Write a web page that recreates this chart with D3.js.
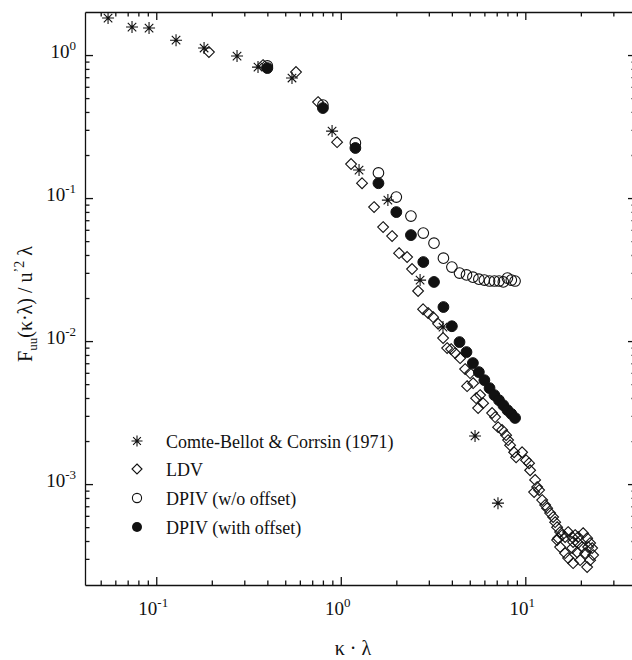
<!DOCTYPE html>
<html>
<head>
<meta charset="utf-8">
<script src="https://cdn.jsdelivr.net/npm/d3@7/dist/d3.min.js"></script>
<style>
  html, body { margin: 0; padding: 0; background: #fff; }
  svg { display: block; }
</style>
</head>
<body>
<svg id="chart" width="632" height="660" font-family="'Liberation Serif', 'DejaVu Serif', serif"></svg>
<script>
// Spectrum data: wavenumber k·λ and normalized spectrum F_uu / u'^2 λ
const cbX = [0.0548, 0.0739, 0.0914, 0.128, 0.1816, 0.274, 0.356, 0.544, 0.897, 1.256, 1.80, 2.69, 3.58, 5.34, 7.11];
const cbY = [1.815, 1.57, 1.545, 1.27, 1.12, 0.984, 0.824, 0.691, 0.294, 0.157, 0.0968, 0.0267, 0.01253, 0.00217, 0.000736];

const ldvX = [0.193, 0.379, 0.572, 0.753, 0.955, 1.137, 1.304, 1.515, 1.696, 1.897, 2.070, 2.288, 2.434, 2.624, 2.793,
  2.973, 3.165, 3.369, 3.585, 3.770, 3.962, 4.165, 4.433, 4.718, 5.022, 4.837, 5.214, 5.413, 5.689, 5.549,
  5.906, 6.608, 6.860, 7.121, 7.485, 7.868, 8.068, 8.271, 8.694, 8.915, 9.609, 10.10, 10.48, 10.62, 11.30,
  11.59, 11.16, 11.88, 12.34, 12.81, 13.13, 13.63, 14.15, 14.51, 14.87, 15.44, 15.06, 15.83, 16.43, 17.06,
  17.94, 18.62, 19.33, 20.57, 21.63, 22.45, 23.02, 23.31, 22.45, 21.63, 19.82, 18.16, 17.06, 16.43, 15.44,
  14.87, 17.94, 19.09, 20.32, 21.09, 21.90, 19.33, 18.16];
const ldvY = [1.05, 0.851, 0.761, 0.469, 0.246, 0.173, 0.127, 0.0865, 0.0627, 0.0542, 0.0412, 0.0387, 0.0319, 0.0224, 0.0167,
  0.0157, 0.0147, 0.0132, 0.0105, 0.00893, 0.00879, 0.00824, 0.00760, 0.00637, 0.00597, 0.00484, 0.00508, 0.00399, 0.00419, 0.00340,
  0.00368, 0.00314, 0.00294, 0.00250, 0.00239, 0.00220, 0.00203, 0.00187, 0.00167, 0.00154, 0.00167, 0.00147, 0.00140, 0.00125, 0.00107,
  0.000953, 0.000879, 0.000908, 0.000773, 0.000713, 0.000679, 0.000627, 0.000588, 0.000542, 0.000500, 0.000462, 0.000419, 0.000440, 0.000426, 0.000462,
  0.000426, 0.000440, 0.000426, 0.000454, 0.000419, 0.000387, 0.000357, 0.000319, 0.000294, 0.000263, 0.000294, 0.000280, 0.000304, 0.000329, 0.000363,
  0.000406, 0.000357, 0.000334, 0.000363, 0.000329, 0.000363, 0.000387, 0.000393];

const dpivX = [0.4, 0.8, 1.2, 1.6, 2.0, 2.4, 2.8, 3.2, 3.6, 4.0, 4.4, 4.8, 5.2, 5.6, 6.0, 6.4, 6.8, 7.2, 7.6, 8.0, 8.4, 8.8];
const noOffsetY = [0.84, 0.447, 0.243, 0.150, 0.1016, 0.0748, 0.0569, 0.0484, 0.0380, 0.0329, 0.0299, 0.0290, 0.0280, 0.0271,
  0.0267, 0.0263, 0.0263, 0.0263, 0.0259, 0.0276, 0.0267, 0.0263];
const withOffsetY = [0.811, 0.426, 0.224, 0.127, 0.0798, 0.0551, 0.0357, 0.0259, 0.0173, 0.0127, 0.00984, 0.00838, 0.00702, 0.00607,
  0.00533, 0.00469, 0.00419, 0.00386, 0.00356, 0.00329, 0.00310, 0.00290];

const legendLabels = ["Comte-Bellot & Corrsin (1971)", "LDV", "DPIV (w/o offset)", "DPIV (with offset)"];

const xMajor = [0.1, 1, 10];
const xExp = ["-1", "0", "1"];
const xMinor = [0.05, 0.06, 0.07, 0.08, 0.09, 0.2, 0.3, 0.4, 0.5, 0.6, 0.7, 0.8, 0.9, 2, 3, 4, 5, 6, 7, 8, 9, 20, 30];
const yMajor = [0.001, 0.01, 0.1, 1];
const yExp = ["-3", "-2", "-1", "0"];
const yMinor = [0.0003, 0.0004, 0.0005, 0.0006, 0.0007, 0.0008, 0.0009,
  0.002, 0.003, 0.004, 0.005, 0.006, 0.007, 0.008, 0.009,
  0.02, 0.03, 0.04, 0.05, 0.06, 0.07, 0.08, 0.09,
  0.2, 0.3, 0.4, 0.5, 0.6, 0.7, 0.8, 0.9];

const serif = "'Liberation Serif', 'DejaVu Serif', serif";
const ink = "#111";
const svg = d3.select("#chart");
const plotL = 85, plotR = 636, plotT = 12, plotB = 585;

const x = d3.scaleLog().domain([0.0411, 39.8]).range([plotL, plotR]);
const y = d3.scaleLog().domain([0.000197, 2.0]).range([plotB, plotT]);

// Frame axes with inward ticks on all four sides
function styleAxis(g) {
  g.selectAll("path, line").attr("stroke", ink).attr("stroke-width", 1.3);
}
const majorLen = 8, minorLen = 4.5;

function frameSide(axisFn, scale, ticksMajor, ticksMinor, transform) {
  svg.append("g").attr("transform", transform)
    .call(axisFn(scale).tickValues(ticksMajor).tickSize(-majorLen).tickSizeOuter(0).tickFormat(""))
    .call(styleAxis);
  svg.append("g").attr("transform", transform)
    .call(axisFn(scale).tickValues(ticksMinor).tickSize(-minorLen).tickSizeOuter(0).tickFormat(""))
    .call(g => g.select(".domain").remove()).call(styleAxis);
}
frameSide(d3.axisBottom, x, xMajor, xMinor, `translate(0,${plotB})`);
frameSide(d3.axisTop, x, xMajor, xMinor, `translate(0,${plotT})`);
frameSide(d3.axisLeft, y, yMajor, yMinor, `translate(${plotL},0)`);
frameSide(d3.axisRight, y, yMajor, yMinor, `translate(${plotR},0)`);

// Power-of-ten tick labels
const xl = svg.append("g").selectAll("text").data(xMajor).join("text")
  .attr("x", d => x(d) - 3).attr("y", 615)
  .attr("text-anchor", "middle").attr("font-size", 19).attr("font-family", serif).attr("fill", ink);
xl.append("tspan").text("10");
xl.append("tspan").attr("dy", -8).attr("font-size", 13).text((d, i) => xExp[i]);

const yl = svg.append("g").selectAll("text").data(yMajor).join("text")
  .attr("x", 76).attr("y", d => y(d) + 3)
  .attr("text-anchor", "end").attr("font-size", 19).attr("font-family", serif).attr("fill", ink);
yl.append("tspan").text("10");
yl.append("tspan").attr("dy", -8).attr("font-size", 13).text((d, i) => yExp[i]);

// Axis titles
svg.append("text").attr("x", 353).attr("y", 655).attr("text-anchor", "middle")
  .attr("font-size", 20).attr("font-family", serif).attr("fill", ink).text("κ · λ");

const yt = svg.append("text")
  .attr("transform", "translate(32,304) rotate(-90)")
  .attr("text-anchor", "middle").attr("font-size", 20).attr("font-family", serif).attr("fill", ink);
yt.append("tspan").text("F");
yt.append("tspan").attr("dy", 5).attr("font-size", 13).text("uu");
yt.append("tspan").attr("dy", -5).text("(κ·λ) / u");
yt.append("tspan").attr("dy", -8).attr("font-size", 14).text("’2");
yt.append("tspan").attr("dy", 8).text(" λ");

// Marker shapes
const diamondPath = s => `M0,${-s}L${s},0L0,${s}L${-s},0Z`;
function asterisk(g, s) {
  const d = s * 0.7071;
  g.append("path")
    .attr("d", `M0,${-s}V${s}M${-s},0H${s}M${-d},${-d}L${d},${d}M${-d},${d}L${d},${-d}`)
    .attr("stroke", ink).attr("stroke-width", 1.1).attr("fill", "none");
  g.append("circle").attr("r", 1.3).attr("fill", ink);
}

const plot = svg.append("g");

// LDV diamonds (unfilled)
plot.append("g").selectAll("path").data(ldvX.map((v, i) => [v, ldvY[i]])).join("path")
  .attr("transform", d => `translate(${x(d[0])},${y(d[1])})`)
  .attr("d", diamondPath(5.4)).attr("fill", "none").attr("stroke", ink).attr("stroke-width", 1.1);

// DPIV without offset (open circles)
plot.append("g").selectAll("circle").data(dpivX.map((v, i) => [v, noOffsetY[i]])).join("circle")
  .attr("cx", d => x(d[0])).attr("cy", d => y(d[1])).attr("r", 5.3)
  .attr("fill", "none").attr("stroke", ink).attr("stroke-width", 1.1);

// DPIV with offset (filled circles)
plot.append("g").selectAll("circle").data(dpivX.map((v, i) => [v, withOffsetY[i]])).join("circle")
  .attr("cx", d => x(d[0])).attr("cy", d => y(d[1])).attr("r", 5.4)
  .attr("fill", ink).attr("stroke", ink);

// Comte-Bellot & Corrsin reference spectrum (asterisks)
plot.append("g").selectAll("g").data(cbX.map((v, i) => [v, cbY[i]])).join("g")
  .attr("transform", d => `translate(${x(d[0])},${y(d[1])})`)
  .each(function () { asterisk(d3.select(this), 6); });

// Legend
const legend = svg.append("g");
const rowY = [441, 469, 498, 527];
legendLabels.forEach((label, i) => {
  const g = legend.append("g").attr("transform", `translate(137,${rowY[i]})`);
  if (i === 0) asterisk(g, 5.5);
  if (i === 1) g.append("path").attr("d", diamondPath(5)).attr("fill", "none").attr("stroke", ink).attr("stroke-width", 1.1);
  if (i === 2) g.append("circle").attr("r", 4.6).attr("fill", "none").attr("stroke", ink).attr("stroke-width", 1.1);
  if (i === 3) g.append("circle").attr("r", 5).attr("fill", ink);
  legend.append("text").attr("x", 166).attr("y", rowY[i] + 6.5)
    .attr("font-size", 18).attr("font-family", serif).attr("fill", ink).text(label);
});
</script>
</body>
</html>
